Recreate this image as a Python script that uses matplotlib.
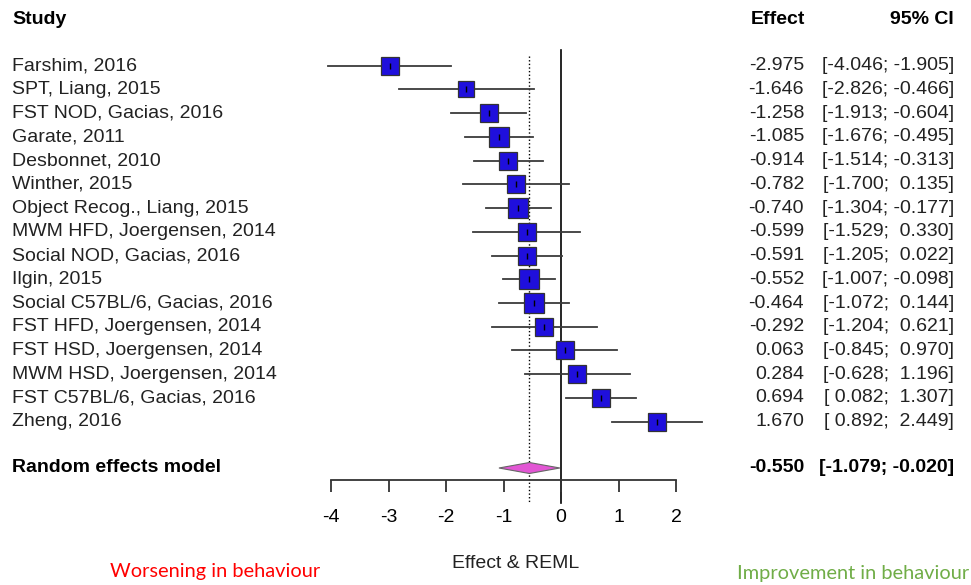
import numpy as np
import matplotlib.pyplot as plt

plt.rcParams['font.family'] = ['Liberation Sans', 'DejaVu Sans']

# Data

studies = ["Farshim, 2016",
           "SPT, Liang, 2015",
           "FST NOD, Gacias, 2016",
           "Garate, 2011",
           "Desbonnet, 2010",
           "Winther, 2015",
           "Object Recog., Liang, 2015",
           "MWM HFD, Joergensen, 2014",
           "Social NOD, Gacias, 2016",
           "Ilgin, 2015",
           "Social C57BL/6, Gacias, 2016",
           "FST HFD, Joergensen, 2014",
           "FST HSD, Joergensen, 2014",
           "MWM HSD, Joergensen, 2014",
           "FST C57BL/6, Gacias, 2016",
           "Zheng, 2016"]
effect = [-2.975, -1.646, -1.258, -1.085, -0.914, -0.782, -0.740, -0.599,
          -0.591, -0.552, -0.464, -0.292, 0.063, 0.284, 0.694, 1.670]
lower = [-4.046, -2.826, -1.913, -1.676, -1.514, -1.700, -1.304, -1.529,
         -1.205, -1.007, -1.072, -1.204, -0.845, -0.628, 0.082, 0.892]
upper = [-1.905, -0.466, -0.604, -0.495, -0.313, 0.135, -0.177, 0.330,
         0.022, -0.098, 0.144, 0.621, 0.970, 1.196, 1.307, 2.449]
# approximate study weights (%)
weights = [5.4, 5.0, 6.5, 7.0, 6.5, 6.1, 6.8, 5.9, 6.5, 6.8, 6.8, 5.9, 6.1, 5.9, 6.5, 6.5]

re_label = "Random effects model"
re_effect = -0.550
re_lower = -1.079
re_upper = -0.020

xticks = [-4, -3, -2, -1, 0, 1, 2]


# Helpers

W, H = 971, 585

def fx(px):
    return px / W

def fy(py):
    return 1 - py / H

def fmt(v):
    return "{:.3f}".format(v)

def fmt_ci(lo, hi):
    a = fmt(lo) if lo < 0 else " " + fmt(lo)
    b = fmt(hi) if hi < 0 else " " + fmt(hi)
    return "[{}; {}]".format(a, b)


# Figure

fig = plt.figure(figsize=(W / 100, H / 100), dpi=100)
ax = fig.add_axes([fx(331), fy(480), fx(676) - fx(331), fy(0) - fy(480)])
ax.set_xlim(-4, 2)
ax.set_ylim(480, 0)   # y in pixel rows
ax.patch.set_alpha(0)
for s in ["top", "right", "left"]:
    ax.spines[s].set_visible(False)
ax.spines["bottom"].set_linewidth(1.3)
ax.spines["bottom"].set_color("#333333")
ax.set_yticks([])
ax.set_xticks(xticks)
ax.set_xticklabels([str(t) for t in xticks], fontsize=14)
ax.tick_params(axis="x", length=8.6, width=1.3, color="#333333", pad=12)

row0, step = 65.7, 23.73
ys = [row0 + i * step for i in range(len(studies))]
y_re = 468

# reference lines
ax.plot([0, 0], [50, 503], color="black", lw=1.2, clip_on=False, zorder=1)
ax.plot([re_effect, re_effect], [56, 503], color="black", lw=1.0,
        linestyle=(0, (1.0, 1.6)), clip_on=False, zorder=1)

# study CIs and boxes
for i in range(len(studies)):
    y = ys[i]
    ax.plot([lower[i], upper[i]], [y, y], color="#3a3a3a", lw=1.3, zorder=2,
            clip_on=False)
    side = 18.7 * np.sqrt(weights[i] / 6.5)
    ax.plot(effect[i], y, marker="s", markersize=side * 0.72,
            markerfacecolor="#1f0fdc", markeredgecolor="#333333",
            markeredgewidth=0.9, zorder=3, clip_on=False)
    ax.plot(effect[i], y, marker="|", markersize=4, color="black",
            markeredgewidth=1.0, zorder=4, clip_on=False)

# summary diamond
ax.fill([re_lower, re_effect, re_upper, re_effect],
        [y_re, y_re - 5.5, y_re, y_re + 5.5],
        facecolor="#e256d4", edgecolor="#666666", lw=0.8, zorder=3)

# text columns
fs = 14
fig.text(fx(12), fy(20), "Study", fontsize=fs, fontweight="bold", va="center")
fig.text(fx(805), fy(20), "Effect", fontsize=fs, fontweight="bold", va="center", ha="right")
fig.text(fx(954), fy(20), "95% CI", fontsize=fs, fontweight="bold", va="center", ha="right")

for i in range(len(studies)):
    yy = fy(ys[i])
    fig.text(fx(12), yy, studies[i], fontsize=fs, va="center", color="#222222")
    fig.text(fx(804), yy, fmt(effect[i]), fontsize=fs, va="center", ha="right", color="#222222")
    fig.text(fx(954), yy, fmt_ci(lower[i], upper[i]), fontsize=fs, va="center", ha="right",
             color="#222222")

fig.text(fx(12), fy(y_re), re_label, fontsize=fs, fontweight="bold", va="center")
fig.text(fx(804), fy(y_re), fmt(re_effect), fontsize=fs, fontweight="bold", va="center", ha="right")
fig.text(fx(954), fy(y_re), fmt_ci(re_lower, re_upper), fontsize=fs, fontweight="bold",
         va="center", ha="right")

fig.text(fx(516), fy(564), "Effect & REML", fontsize=fs, ha="center", va="center", color="#222222")
fig.text(fx(215), fy(572), "Worsening in behaviour", fontsize=14.4, ha="center", va="center",
         color="#ff0000", family=["Lato", "DejaVu Sans"])
fig.text(fx(853), fy(573), "Improvement in behaviour", fontsize=14.4, ha="center", va="center",
         color="#70ad47", family=["Lato", "DejaVu Sans"])

fig.savefig("out.png", dpi=100)
